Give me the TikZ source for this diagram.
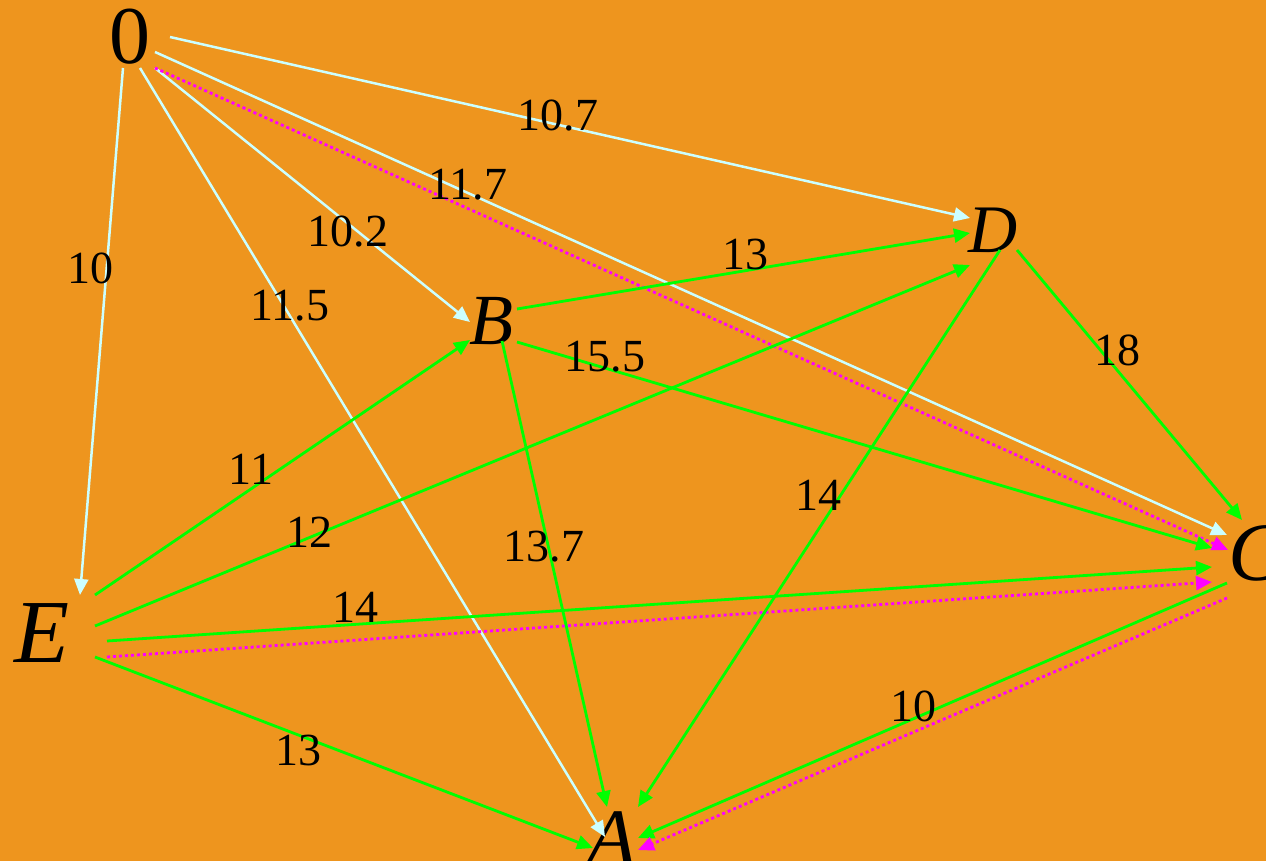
\documentclass[tikz,border=0pt]{standalone}
\usepackage{fontspec}
\setmainfont{Liberation Serif}
\usetikzlibrary{arrows.meta}
\definecolor{bg}{RGB}{238,149,30}
\definecolor{lcyan}{RGB}{204,255,255}
\definecolor{lgreen}{RGB}{0,255,0}
\definecolor{lmag}{RGB}{255,0,255}
\tikzset{
  vert/.style={inner sep=0pt, text=black},
  lab/.style={inner sep=0pt, text=black, font=\fontsize{46}{46}\selectfont},
  wh/.style={draw=lcyan, line width=2.5pt, -{Triangle[length=16pt,width=14pt]}},
  gr/.style={draw=lgreen, line width=2.8pt, -{Triangle[length=16pt,width=14pt]}},
  mg/.style={draw=lmag, line width=2.8pt, dash pattern=on 3pt off 3pt, -{Triangle[length=16pt,width=14pt]}},
}
\begin{document}
\begin{tikzpicture}[x=1pt,y=-1pt]
\fill[bg] (0,0) rectangle (1266,861);
\useasboundingbox (0,0) rectangle (1266,861);
% vertices
\node[vert, font=\fontsize{82}{82}\selectfont] (o) at (130,37) {0};
\node[vert, font=\fontsize{68}{68}\selectfont\itshape] (d) at (993,230) {D};
\node[vert, font=\fontsize{72}{72}\selectfont\itshape] (b) at (491,321) {B};
\node[vert, font=\fontsize{83}{83}\selectfont\itshape] (c) at (1256,553) {C};
\node[vert, font=\fontsize{90}{90}\selectfont\itshape] (e) at (42,633) {E};
\node[vert, font=\fontsize{80}{80}\selectfont\itshape] (a) at (612,838) {A};
% edges from 0
\draw[wh] ([shift={(-7,31)}]o.center) -- ([shift={(38,-38)}]e.center);
\draw[wh] ([shift={(10,31)}]o.center) -- ([shift={(-7,-1)}]a.center);
\draw[wh] ([shift={(25,31)}]o.center) -- ([shift={(-21,1)}]b.center);
\draw[wh] ([shift={(25,15)}]o.center) -- ([shift={(-29,-18)}]c.center);
\draw[wh] ([shift={(40,0)}]o.center) -- ([shift={(-23,-12)}]d.center);
\draw[mg] ([shift={(25,31)}]o.center) -- ([shift={(-28,-3)}]c.center);
% green edges
\draw[gr] ([shift={(26,-12)}]b.center) -- ([shift={(-23,3)}]d.center);
\draw[gr] ([shift={(26,21)}]b.center) -- ([shift={(-44,-5)}]c.center);
\draw[gr] ([shift={(53,-38)}]e.center) -- ([shift={(-21,19)}]b.center);
\draw[gr] ([shift={(53,-7)}]e.center) -- ([shift={(-23,35)}]d.center);
\draw[gr] ([shift={(65,8)}]e.center) -- ([shift={(-44,14)}]c.center);
\draw[mg] ([shift={(65,24)}]e.center) -- ([shift={(-44,29)}]c.center);
\draw[gr] ([shift={(53,24)}]e.center) -- ([shift={(-19,10)}]a.center);
\draw[gr] ([shift={(11,20)}]b.center) -- ([shift={(-5,-31)}]a.center);
\draw[gr] ([shift={(7,20)}]d.center) -- ([shift={(26,-31)}]a.center);
\draw[gr] ([shift={(24,20)}]d.center) -- ([shift={(-14,-33)}]c.center);
\draw[gr] ([shift={(-29,30)}]c.center) -- ([shift={(26,0)}]a.center);
\draw[mg] ([shift={(-29,45)}]c.center) -- ([shift={(26,12)}]a.center);
% labels
\node[lab] (l1) at (558,116) {10.7};
\node[lab] (l2) at (468,185) {11.7};
\node[lab] (l3) at (348,232) {10.2};
\node[lab] (l4) at (90,268) {10};
\node[lab] (l5) at (290,306) {11.5};
\node[lab] (l6) at (745,254) {13};
\node[lab] (l7) at (605,357) {15.5};
\node[lab] (l8) at (1117,350) {18};
\node[lab] (l9) at (251,469) {11};
\node[lab] (l10) at (309,532) {12};
\node[lab] (l11) at (818,495) {14};
\node[lab] (l12) at (544,547) {13.7};
\node[lab] (l13) at (355,607) {14};
\node[lab] (l14) at (298,750) {13};
\node[lab] (l15) at (913,706) {10};
\end{tikzpicture}
\end{document}
